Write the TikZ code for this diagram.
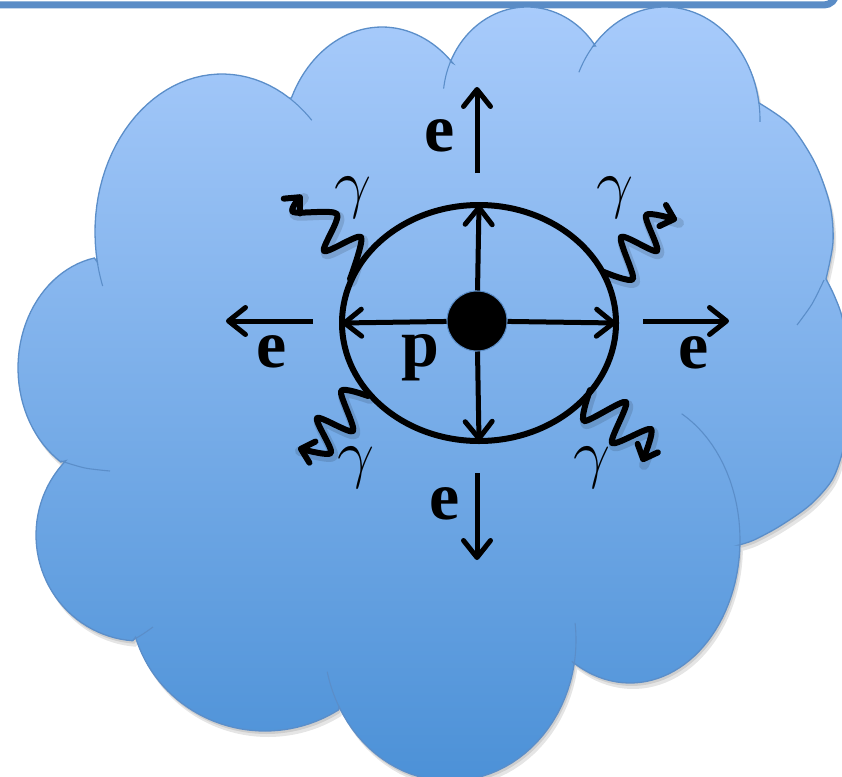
\RequirePackage{fix-cm}
\documentclass[tikz,border=0pt]{standalone}
\usepackage{fontspec}
\newfontfamily\labelfont{Liberation Serif}
\usetikzlibrary{arrows.meta,shapes.geometric}
\definecolor{cloudtop}{RGB}{168,203,251}
\definecolor{cloudbot}{RGB}{76,145,215}
\definecolor{cloudedge}{RGB}{91,142,201}
\definecolor{barblue}{RGB}{90,140,198}

\newcommand{\cloudoutline}{({222+127*cos(169)},{232+158*sin(169)})
 -- plot[domain=169:302, samples=40, variable=\t] ({222+127*cos(\t)},{232+158*sin(\t)})
 -- plot[domain=205:315, samples=40, variable=\t] ({382+100*cos(\t)},{150+123*sin(\t)})
 -- plot[domain=204.3:324.5, samples=40, variable=\t] ({527+84*cos(\t)},{100+93*sin(\t)})
 -- plot[domain=220.8:351.3, samples=40, variable=\t] ({665+95*cos(\t)},{120+113*sin(\t)})
 -- plot[smooth] coordinates {(759,103) (790,125) (815,163) (830,205) (833,242) (826,279)}
 -- plot[smooth] coordinates {(826,279) (834,295) (842,317) (850,360) (850,410) (843,450) (832,480) (810,505) (780,526) (754,540) (739,545)}
 -- plot[domain=2:121.9, samples=40, variable=\t] ({630+110*cos(\t)},{540+143*sin(\t)})
 -- plot[domain=9.7:151.7, samples=40, variable=\t] ({450+126*cos(\t)},{640+141*sin(\t)})
 -- plot[domain=57.1:163.5, samples=40, variable=\t] ({265+135*cos(\t)},{600+131*sin(\t)})
 -- plot[domain=94:224.5, samples=40, variable=\t] ({140+104*cos(\t)},{535+106*sin(\t)})
 -- plot[domain=122.9:259.2, samples=40, variable=\t] ({112+94*cos(\t)},{368+112*sin(\t)})
 -- cycle}

\begin{document}
\begin{tikzpicture}[x=1pt,y=-1pt,
  crease/.style={draw=cloudedge, line width=1.1},
  arr/.style={line width=5, -{Straight Barb[length=17pt,width=27pt,round]}},
  wave/.style={line width=6, line cap=round, line join=round,
     -{Straight Barb[length=12pt,width=22pt,round]}},
  waveshadow/.style={line width=10, line cap=round, line join=round, black, opacity=0.12},
  lbl/.style={font=\labelfont\bfseries\fontsize{68}{70}\selectfont, inner sep=0, anchor=base},
  gam/.style={font=\fontsize{66}{70}\selectfont, inner sep=0, anchor=base}]
\useasboundingbox (0,0) rectangle (842,776);
\begin{scope}
\clip (0,0) rectangle (842,776);
% top bar
\draw[barblue, line width=7, fill=white, rounded corners=12] (-40,-80) rectangle (836,5);
% cloud shadow
\fill[black, opacity=0.10, shift={(3,6)}] \cloudoutline;
\fill[black, opacity=0.10, shift={(1.5,3)}] \cloudoutline;
% cloud
\path[top color=cloudtop, bottom color=cloudbot, draw=cloudedge, line width=1.3] \cloudoutline;
% creases (hidden continuations of the bumps)
\draw[crease] plot[domain=302:315, samples=10, variable=\t] ({222+127*cos(\t)},{232+158*sin(\t)});
\draw[crease] plot[domain=160:169, samples=10, variable=\t] ({222+127*cos(\t)},{232+158*sin(\t)});
\draw[crease] plot[domain=187:204.3, samples=10, variable=\t] ({527+84*cos(\t)},{100+93*sin(\t)});
\draw[crease] plot[domain=205:220.8, samples=10, variable=\t] ({665+95*cos(\t)},{120+113*sin(\t)});
\draw[crease] plot[domain=351.3:361, samples=10, variable=\t] ({665+95*cos(\t)},{120+113*sin(\t)});
\draw[crease] plot[smooth] coordinates {(824,280) (812,304) (797,325)};
\draw[crease] plot[domain=-62:2, samples=20, variable=\t] ({630+110*cos(\t)},{540+143*sin(\t)});
\draw[crease] plot[domain=-7:9.7, samples=10, variable=\t] ({450+126*cos(\t)},{640+141*sin(\t)});
\draw[crease] plot[domain=151.7:167, samples=10, variable=\t] ({450+126*cos(\t)},{640+141*sin(\t)});
\draw[crease] plot[smooth] coordinates {(133,640) (143,634) (153,627)};
\draw[crease] plot[smooth] coordinates {(61,461) (85,468) (110,471)};
\end{scope}

% atom
\node[ellipse, draw=black, line width=6, minimum width=274, minimum height=236,
      inner sep=0, outer sep=0] (ell) at (479,323) {};
\node[circle, fill=black, draw=cloudedge, line width=1, minimum size=60,
      inner sep=0] (nuc) at (477,321) {};
\draw[arr] (nuc) -- (ell.north);
\draw[arr] (nuc) -- (ell.south);
\draw[arr] (nuc) -- (ell.west);
\draw[arr] (nuc) -- (ell.east);

% outgoing electrons
\coordinate (upS) at (477,173); \coordinate (upE) at (477,87);
\coordinate (rtS) at (643,321); \coordinate (rtE) at (729,321);
\coordinate (lfS) at (313,321); \coordinate (lfE) at (226,321);
\coordinate (dnS) at (477,473); \coordinate (dnE) at (477,560);
\draw[arr] (upS) -- (upE);
\draw[arr] (rtS) -- (rtE);
\draw[arr] (lfS) -- (lfE);
\draw[arr] (dnS) -- (dnE);

\node[lbl] (eup) at (440,151) {e};
\node[lbl] (eleft) at (272,367) {e};
\node[lbl] (eright) at (694,368) {e};
\node[lbl] (edown) at (445,519) {e};
\node[lbl] (plab) at (420,366) {p};

% photons
\begin{scope}[shift={(2,3)}]
\draw[waveshadow] plot[smooth, tension=0.45] coordinates {(350,279) (361,237) (324,251) (337,214) (293,212) (302,195)};
\draw[waveshadow] plot[smooth, tension=0.45] coordinates {(604,272) (633,279) (621,237) (657,251) (646,215) (677,220)};
\draw[waveshadow] plot[smooth, tension=0.45] coordinates {(368,396) (341,391) (353,431) (317,418) (331,453) (298,448)};
\draw[waveshadow] plot[smooth, tension=0.45] coordinates {(590,390) (584,421) (626,402) (612,443) (651,429) (642,462)};
\end{scope}
\draw[wave] plot[smooth, tension=0.45] coordinates {(350,279) (361,237) (324,251) (337,214) (293,212) (302,195)};
\draw[wave] plot[smooth, tension=0.45] coordinates {(604,272) (633,279) (621,237) (657,251) (646,215) (677,220)};
\draw[wave] plot[smooth, tension=0.45] coordinates {(368,396) (341,391) (353,431) (317,418) (331,453) (298,448)};
\draw[wave] plot[smooth, tension=0.45] coordinates {(590,390) (584,421) (626,402) (612,443) (651,429) (642,462)};

\node[gam] (g1) at (353,205) {$\gamma$};
\node[gam] (g2) at (615,205) {$\gamma$};
\node[gam] (g3) at (356,475) {$\gamma$};
\node[gam] (g4) at (592,475) {$\gamma$};
\end{tikzpicture}
\end{document}
